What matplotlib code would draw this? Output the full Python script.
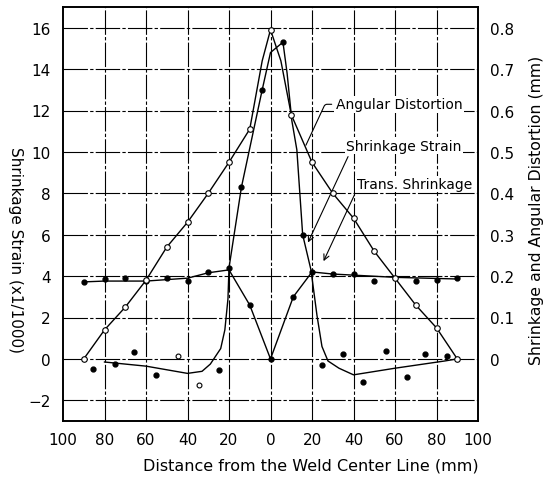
import matplotlib
matplotlib.use("Agg")
import matplotlib.pyplot as plt
import matplotlib.ticker as ticker

# Distancia desde la linea central de soldadura (mm)
dist = [-90, -80, -70, -60, -50, -40, -30, -20, -10, 0, 10, 20, 30, 40, 50, 60, 70, 80, 90]

# Distorsion angular (mm) - circulos abiertos
angular_mm = [0, 0.07, 0.125, 0.19, 0.27, 0.33, 0.40, 0.475, 0.555, 0.795,
              0.59, 0.475, 0.40, 0.34, 0.26, 0.195, 0.13, 0.075, 0]
# vertices extra del pico redondeado
ang_peak_x = [-4, 5]
ang_peak_mm = [0.72, 0.72]

# Contraccion transversal (mm) - puntos rellenos
trans_x = [-90, -80, -70, -60, -50, -40, -30, -20, -10, 0, 11, 20, 30, 40, 50, 70, 80, 90]
trans_mm = [0.186, 0.193, 0.195, 0.188, 0.195, 0.188, 0.21, 0.22, 0.13, 0,
            0.15, 0.21, 0.205, 0.205, 0.188, 0.188, 0.19, 0.195]
trans_line_x = [-90, -80, -60, -40, -30, -20, -10, 0, 11, 20, 30, 60, 90]
trans_line_mm = [0.186, 0.188, 0.188, 0.195, 0.208, 0.215, 0.13, 0, 0.15, 0.21, 0.205, 0.197, 0.193]

# Deformacion de contraccion (x1/1000)
strain_pk_x = [-14, -4, 6, 15.5]
strain_pk = [8.3, 13.0, 15.3, 6.0]
strain_sc_x = [-85.6, -75, -65.7, -55, -25, 25, 35, 44.6, 55.6, 65.8, 74.5, 85]
strain_sc = [-0.5, -0.25, 0.33, -0.8, -0.55, -0.3, 0.24, -1.1, 0.38, -0.87, 0.24, 0.15]
strain_open_x = [-44.5, -34.5]
strain_open = [0.15, -1.25]
curve_x = [-80, -60, -40, -33, -29, -24, -22, -20.5, -20, -14, -4, 0, 6, 8, 10.3,
           12.7, 15.5, 19.5, 22.4, 24.8, 27.7, 33, 40, 60, 84, 90]
curve_y = [-0.15, -0.35, -0.7, -0.6, -0.25, 0.5, 1.4, 2.9, 4.4, 8.3, 13.0, 14.8, 15.3,
           13.8, 11.5, 10.1, 6.0, 4.3, 2.1, 0.6, -0.1, -0.45, -0.77, -0.45, -0.1, 0]

xticks = [-100, -80, -60, -40, -20, 0, 20, 40, 60, 80, 100]

fig = plt.figure(figsize=(5.45, 4.81), dpi=100)
ax = fig.add_axes([63 / 545, 1 - 422 / 481, 415 / 545, 414 / 481])
ax2 = ax.twinx()

ax.set_xlim(-100, 100)
ax.set_ylim(-3, 17)
ax2.set_ylim(-0.15, 0.85)

grid_ls = (0, (22, 2, 3, 2))
for v in xticks[1:-1]:
    ax.axvline(v, color="black", lw=0.8, ls=grid_ls, zorder=1)
for h in range(-2, 17, 2):
    ax.axhline(h, color="black", lw=0.8, ls=grid_ls, zorder=1)

# curva de deformacion
ax.plot(curve_x, curve_y, color="black", lw=1.0, zorder=3)
ax.plot(strain_pk_x, strain_pk, "o", color="black", ms=3.5, zorder=4)
ax.plot(strain_sc_x, strain_sc, "o", color="black", ms=3.5, zorder=4)
ax.plot(strain_open_x, strain_open, "o", mfc="white", mec="black", ms=3.5, mew=0.8, zorder=4)

# distorsion angular: linea con pico redondeado
line_pts = sorted(zip(dist + ang_peak_x, angular_mm + ang_peak_mm))
ax2.plot([p[0] for p in line_pts], [p[1] for p in line_pts], color="black", lw=1.0, zorder=3)
ax2.plot(dist, angular_mm, "o", mfc="white", mec="black", ms=4, mew=0.8, zorder=5)

# contraccion transversal
ax2.plot(trans_line_x, trans_line_mm, color="black", lw=1.0, zorder=3)
ax2.plot(trans_x, trans_mm, "o", color="black", ms=3.5, zorder=4)

# etiquetas con flechas
arrow = dict(arrowstyle="-", color="black", lw=0.8,
             connectionstyle="angle,angleA=0,angleB=65,rad=2")
lbl = dict(fontsize=10, va="center", ha="left",
           bbox=dict(fc="white", ec="none", pad=1), zorder=6)
ax.annotate("Angular Distortion", xy=(16.5, 10.2), xytext=(31.5, 12.3),
            arrowprops=arrow, **lbl)
ax.annotate("Shrinkage Strain", xy=(17.5, 5.5), xytext=(36.5, 10.3),
            arrowprops=dict(arrow, arrowstyle="->"), **lbl)
ax.annotate("Trans. Shrinkage", xy=(25, 4.6), xytext=(41.5, 8.45),
            arrowprops=dict(arrow, arrowstyle="->"), **lbl)

ax.set_xticks(xticks)
ax.xaxis.set_major_formatter(ticker.FuncFormatter(lambda v, _: "%d" % abs(v)))
ax.set_yticks(range(-2, 17, 2))
ax2.set_yticks([0, 0.1, 0.2, 0.3, 0.4, 0.5, 0.6, 0.7, 0.8])
ax2.yaxis.set_major_formatter(ticker.FuncFormatter(lambda v, _: "0" if v == 0 else "%.1f" % v))

ax.tick_params(axis="x", length=0, pad=8, labelsize=11)
ax.tick_params(axis="y", length=0, pad=9, labelsize=11)
ax2.tick_params(axis="y", length=0, pad=9, labelsize=11)
for a in (ax, ax2):
    for s in a.spines.values():
        s.set_linewidth(1.2)

fig.text(15 / 545, 1 - 250 / 481, "Shrinkage Strain (x1/1000)", rotation=270,
         ha="center", va="center", fontsize=11)
fig.text(537 / 545, 1 - 210 / 481, "Shrinkage and Angular Distortion (mm)", rotation=90,
         ha="center", va="center", fontsize=11.3)
fig.text(311 / 545, 1 - 466 / 481, "Distance from the Weld Center Line (mm)",
         ha="center", va="center", fontsize=11.5)

fig.savefig("out.png", dpi=100)
